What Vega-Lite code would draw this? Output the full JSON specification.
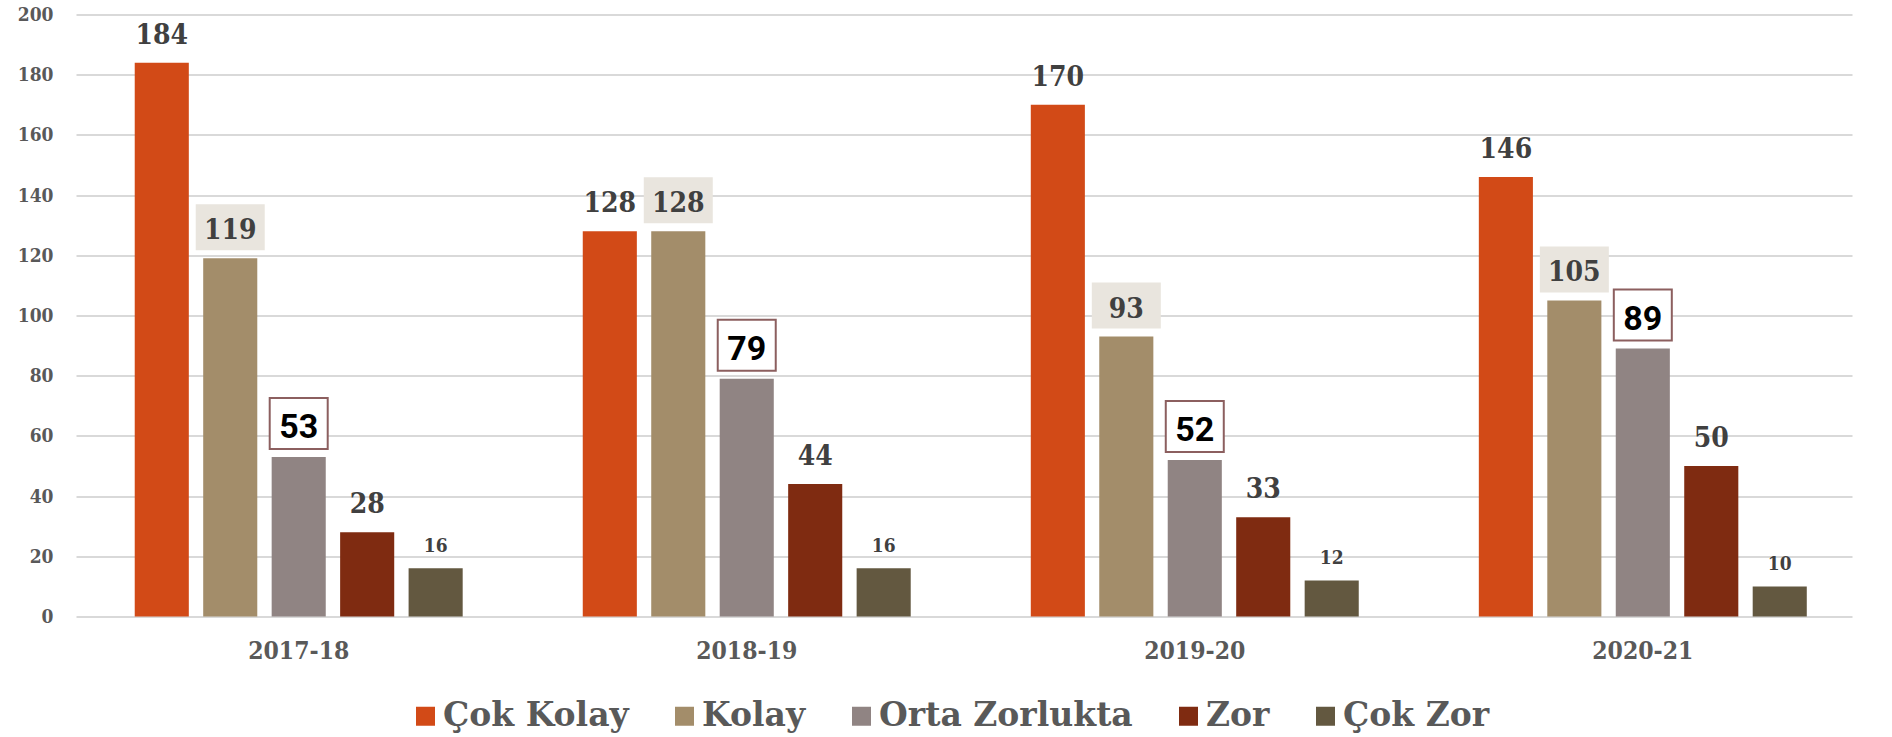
{
 "$schema": "https://vega.github.io/schema/vega-lite/v6.json",
 "width": 1776,
 "height": 602,
 "autosize": {"type": "none"},
 "padding": {"left": 76, "top": 14.5, "right": 40, "bottom": 120.5},
 "background": "white",
 "config": {"view": {"stroke": null}},
 "data": {"values": [
  {"year": "2017-18", "level": "Çok Kolay", "value": 184},
  {"year": "2017-18", "level": "Kolay", "value": 119},
  {"year": "2017-18", "level": "Orta Zorlukta", "value": 53},
  {"year": "2017-18", "level": "Zor", "value": 28},
  {"year": "2017-18", "level": "Çok Zor", "value": 16},
  {"year": "2018-19", "level": "Çok Kolay", "value": 128},
  {"year": "2018-19", "level": "Kolay", "value": 128},
  {"year": "2018-19", "level": "Orta Zorlukta", "value": 79},
  {"year": "2018-19", "level": "Zor", "value": 44},
  {"year": "2018-19", "level": "Çok Zor", "value": 16},
  {"year": "2019-20", "level": "Çok Kolay", "value": 170},
  {"year": "2019-20", "level": "Kolay", "value": 93},
  {"year": "2019-20", "level": "Orta Zorlukta", "value": 52},
  {"year": "2019-20", "level": "Zor", "value": 33},
  {"year": "2019-20", "level": "Çok Zor", "value": 12},
  {"year": "2020-21", "level": "Çok Kolay", "value": 146},
  {"year": "2020-21", "level": "Kolay", "value": 105},
  {"year": "2020-21", "level": "Orta Zorlukta", "value": 89},
  {"year": "2020-21", "level": "Zor", "value": 50},
  {"year": "2020-21", "level": "Çok Zor", "value": 10}
 ]},
 "encoding": {
  "x": {"field": "year", "type": "nominal", "sort": ["2017-18", "2018-19", "2019-20", "2020-21"],
   "scale": {"paddingInner": 0.268, "paddingOuter": 0.116, "align": 0.565},
   "axis": {"title": null, "labelAngle": 0, "domain": false, "ticks": false, "labelPadding": 23,
    "labelFont": "DejaVu Serif Condensed, DejaVu Serif", "labelFontWeight": "bold", "labelFontSize": 24.5, "labelColor": "#595959"}},
  "xOffset": {"field": "level", "type": "nominal",
   "scale": {"domain": ["Çok Kolay", "Kolay", "Orta Zorlukta", "Zor", "Çok Zor"], "paddingInner": 0.21, "paddingOuter": 0}},
  "y": {"field": "value", "type": "quantitative", "stack": null,
   "scale": {"domain": [0, 200], "nice": false},
   "axis": {"title": null, "values": [0, 20, 40, 60, 80, 100, 120, 140, 160, 180, 200], "grid": true, "gridColor": "#D9D9D9", "gridWidth": 2,
    "domain": false, "ticks": false, "labelPadding": 23,
    "labelFont": "DejaVu Serif Condensed, DejaVu Serif", "labelFontWeight": "bold", "labelFontSize": 19, "labelColor": "#595959"}}
 },
 "layer": [
  {"mark": {"type": "bar"},
   "encoding": {"color": {"field": "level", "type": "nominal",
    "scale": {"domain": ["Çok Kolay", "Kolay", "Orta Zorlukta", "Zor", "Çok Zor"], "range": ["#D24A17", "#A38D6A", "#908483", "#7F2B11", "#635840"]},
    "legend": {"title": null, "orient": "none", "direction": "horizontal", "columns": 5, "legendX": 333, "legendY": 685,
     "symbolType": "square", "symbolSize": 361, "symbolStrokeWidth": 0, "labelOffset": 1, "columnPadding": 39,
     "labelFont": "DejaVu Serif", "labelFontWeight": "bold", "labelFontSize": 33, "labelColor": "#595959", "labelLimit": 400}}}},
  {"transform": [{"filter": "datum.level === 'Kolay'"}],
   "mark": {"type": "bar", "width": 69, "fill": "#E9E5DE", "yOffset": -54, "y2Offset": -8},
   "encoding": {"y2": {"field": "value"}}},
  {"transform": [{"filter": "datum.level === 'Orta Zorlukta'"}],
   "mark": {"type": "bar", "width": 58, "fill": "white", "stroke": "#8C5F5F", "strokeWidth": 2, "yOffset": -59, "y2Offset": -8},
   "encoding": {"y2": {"field": "value"}}},
  {"transform": [{"filter": "datum.level === 'Çok Kolay' || datum.level === 'Kolay' || datum.level === 'Zor'"}],
   "mark": {"type": "text", "baseline": "alphabetic", "dy": -19, "font": "DejaVu Serif Condensed, DejaVu Serif", "fontWeight": "bold", "fontSize": 28, "color": "#404040"},
   "encoding": {"text": {"field": "value", "type": "quantitative"}}},
  {"transform": [{"filter": "datum.level === 'Orta Zorlukta'"}],
   "mark": {"type": "text", "baseline": "alphabetic", "dy": -19, "font": "Roboto", "fontWeight": "bold", "fontSize": 34, "color": "#000000"},
   "encoding": {"text": {"field": "value", "type": "quantitative"}}},
  {"transform": [{"filter": "datum.level === 'Çok Zor'"}],
   "mark": {"type": "text", "baseline": "alphabetic", "dy": -16, "font": "DejaVu Serif Condensed, DejaVu Serif", "fontWeight": "bold", "fontSize": 19, "color": "#404040"},
   "encoding": {"text": {"field": "value", "type": "quantitative"}}}
 ]
}
